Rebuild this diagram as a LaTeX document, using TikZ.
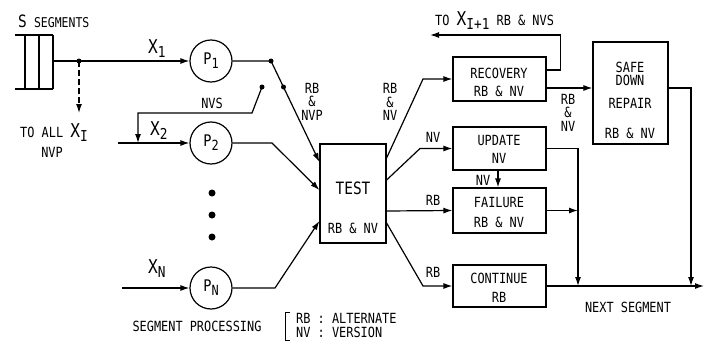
\documentclass[tikz,border=0pt]{standalone}
\usepackage{fontspec}
\setmainfont{DejaVu Sans Mono}[FakeStretch=0.85]
\usetikzlibrary{arrows.meta,calc}
\newcommand\Xs[1]{{\fontsize{19}{19}\selectfont X}\raisebox{-4pt}{\fontsize{15}{15}\selectfont #1}}
\newcommand\Ps[1]{{\fontsize{16}{16}\selectfont P}\raisebox{-4pt}{\fontsize{14}{14}\selectfont #1}}
\begin{document}
\begin{tikzpicture}[x=1pt,y=-1pt,
  ln/.style={line width=1.2pt},
  arr/.style={ln,-{Latex[length=9pt,width=6pt]}},
  box/.style={draw,ln,rectangle,minimum width=93pt,minimum height=43pt,inner sep=0pt},
  proc/.style={draw,ln,circle,minimum size=42pt,inner sep=0pt},
  txt/.style={inner sep=0pt,font=\fontsize{14}{14}\selectfont},
  stk/.style={inner sep=0pt,align=center,font=\fontsize{14}{13.5}\selectfont},
  dot/.style={circle,fill,inner sep=0pt,minimum size=5pt},
  bigdot/.style={circle,fill,inner sep=0pt,minimum size=7pt}]
\useasboundingbox (0,0) rectangle (705,343);

% segment queue
\draw[ln] (15,35) -- (53,35) (15,89) -- (53,89)
  (25,35) -- (25,89) (39,35) -- (39,89) (53,35) -- (53,89);
\coordinate (sout) at (53,61);
\node[txt,anchor=base west] (sseg) at (18,27) {{\fontsize{17}{17}\selectfont S} {\fontsize{13.5}{13.5}\selectfont SEGMENTS}};

% processes
\node[proc] (p1) at (211,61) {\Ps{1}};
\node[proc] (p2) at (211,143) {\Ps{2}};
\node[proc] (pn) at (211,288) {\Ps{N}};
\node[bigdot] (v1) at (212,193) {};
\node[bigdot] (v2) at (212,215) {};
\node[bigdot] (v3) at (212,237) {};

% boxes
\node[draw,ln,minimum width=66pt,minimum height=99pt,inner sep=0pt] (test) at (353,193.5) {};
\node[box,minimum height=44pt] (rec) at (499.5,79) {};
\node[box] (upd) at (499.5,148.5) {};
\node[box,minimum height=45pt] (fail) at (499.5,210.5) {};
\node[box,minimum height=42pt] (cont) at (499.5,286) {};
\node[draw,ln,minimum width=75pt,minimum height=102pt,inner sep=0pt] (safe) at (630.5,93) {};

% box texts
\node[txt,font=\fontsize{17}{17}\selectfont] (tt1) at (353,188) {TEST};
\node[txt] (tt2) at (353,228) {RB \& NV};
\node[txt] (rt1) at (499,73) {RECOVERY};
\node[txt] (rt2) at (499,91) {RB \& NV};
\node[txt] (ut1) at (499,140) {UPDATE};
\node[txt] (ut2) at (499,158) {NV};
\node[txt] (ft1) at (499,202) {FAILURE};
\node[txt] (ft2) at (499,222) {RB \& NV};
\node[txt] (ct1) at (499,278) {CONTINUE};
\node[txt] (ct2) at (499,297) {RB};
\node[txt] (st1) at (630,67.5) {SAFE};
\node[txt] (st2) at (630,80.5) {DOWN};
\node[txt] (st3) at (630,103) {REPAIR};
\node[txt] (st4) at (630,133) {RB \& NV};

% input side
\node[dot] (d1) at (79,61) {};
\coordinate (toall) at (79,113);
\draw[arr] (sout) -- (p1.west);
\draw[arr,dashed,dash pattern=on 6pt off 3pt] (d1.center) -- (toall);
\node[txt,anchor=base west] (toalllab) at (20,137) {TO ALL \Xs{I}};
\node[txt] (nvplab) at (52,152) {NVP};
\node[txt,anchor=base west] (x1lab) at (148,53) {\Xs{1}};
\node[txt,anchor=base west] (x2lab) at (150,135) {\Xs{2}};
\node[txt,anchor=base west] (xnlab) at (148,273) {\Xs{N}};

\coordinate (x2in) at (118,143);
\coordinate (xnin) at (122,288);
\coordinate (nvsin) at (138,143);
\draw[arr] (x2in) -- (p2.west);
\draw[arr] (xnin) -- (pn.west);

\node[dot] (k1) at (271,61) {};
\node[dot] (k2) at (283.5,87) {};
\node[dot] (sw) at (262,87) {};
\draw[arr] (p1.east) -- (k1.center) -- ([yshift=31.5pt]test.west);
\draw[arr] (sw.center) -- (252,113) -| (nvsin);
\node[txt] (nvslab) at (212,103) {NVS};
\node[stk] (rbnvp) at (312,101.5) {RB\\\&\\NVP};

\draw[arr] (p2.east) -- (272,143) -- ([yshift=3.5pt]test.west);
\draw[arr] (pn.east) -- (275,288) -- ([yshift=-27.5pt]test.west);

% output side
\draw[arr] ([yshift=35.5pt]test.east) -- (423,79) -- (rec.west);
\draw[arr] ([yshift=13.5pt]test.east) -- (420,148.5) -- (upd.west);
\draw[arr] ([yshift=-17.5pt]test.east) -- (fail.west);
\draw[arr] ([yshift=-29.5pt]test.east) -- (423,286) -- (cont.west);
\node[stk] (rbnv1) at (390,102) {RB\\\&\\NV};
\node[txt] (nvl1) at (433,137) {NV};
\node[txt] (rbl1) at (433,200) {RB};
\node[txt] (rbl2) at (433,272) {RB};

\coordinate (fb) at (430,35);
\coordinate (j1) at (578,286);
\coordinate (j2) at (691,286);
\coordinate (ns) at (704,286);

\draw[arr] ([yshift=9pt]rec.east) -- ++(14,0) |- (fb);
\node[txt,anchor=base west] (tox) at (435,25) {TO \Xs{I+1} RB \& NVS};
\draw[arr] ([yshift=-9pt]rec.east) -- ([yshift=-9pt]rec.east -| safe.west);
\node[stk] (rbnv2) at (568,112.5) {RB\\\&\\NV};

\draw[arr] ([xshift=-1.5pt]upd.south) -- ([xshift=-1.5pt]fail.north);
\node[txt] (nvl2) at (483,180) {NV};
\draw[arr] (upd.east) -| (j1);
\draw[arr] (fail.east) -- (fail.east -| j1);
\draw[arr] (cont.east) -- (ns);
\draw[arr] ([yshift=5pt]safe.east) -| (j2);
\node[txt] (nseg) at (628,307) {NEXT SEGMENT};

% legend
\node[txt] (segproc) at (197,326) {SEGMENT PROCESSING};
\draw[line width=1pt] (290,312) -- (285,312) -- (285,340) -- (290,340);
\node[txt,anchor=west] (leg1) at (296,318) {RB : ALTERNATE};
\node[txt,anchor=west] (leg2) at (296,332) {NV : VERSION};
\end{tikzpicture}
\end{document}
